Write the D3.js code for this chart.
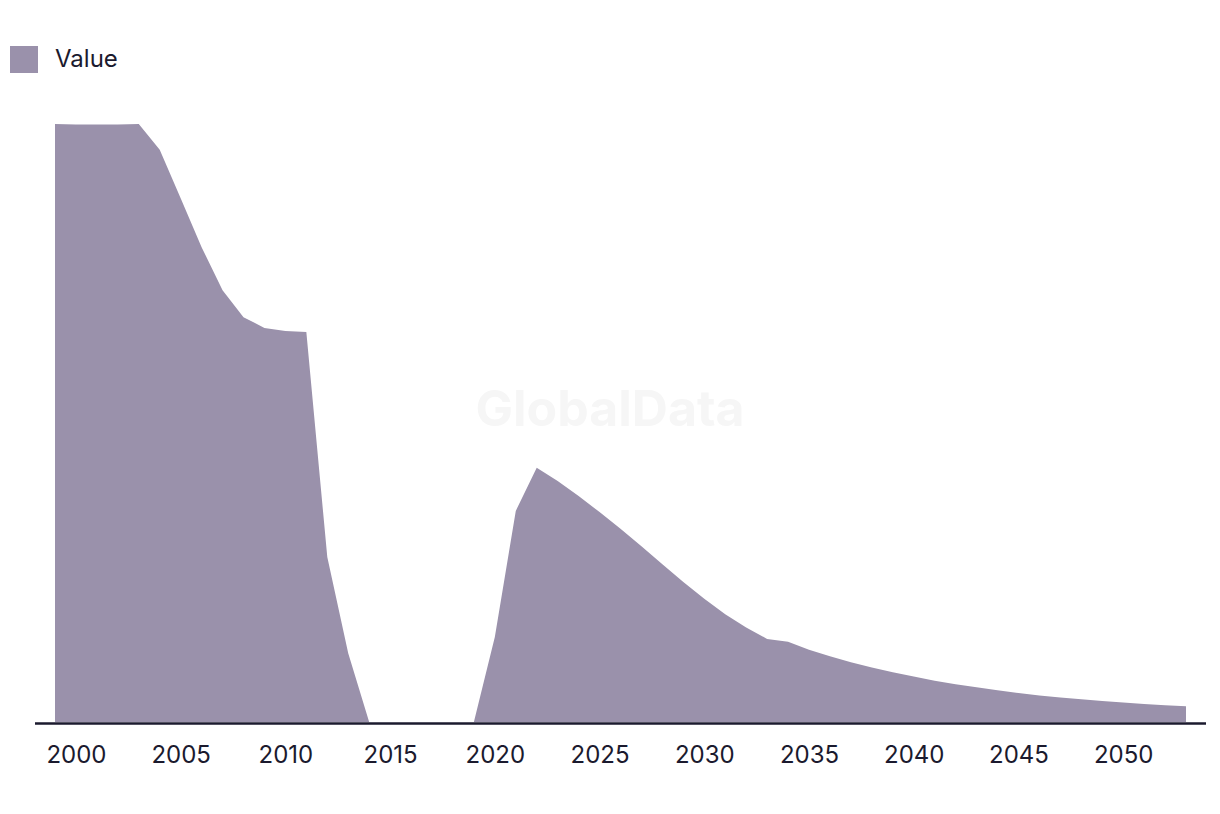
<!DOCTYPE html>
<html><head><meta charset="utf-8">
<script src="https://cdn.jsdelivr.net/npm/d3@7"></script>
<style>
html,body{margin:0;padding:0;background:#fff;}
svg{display:block;font-family:Inter,"Noto Sans",sans-serif;}
</style></head>
<body>
<svg id="chart" width="1220" height="814"></svg>
<script>
const years = d3.range(1999, 2054);
const values = [100, 99.9, 99.9, 99.9, 100, 95.7, 87.6, 79.4, 72.2, 67.7, 65.9, 65.4, 65.2, 27.6, 11.5,
  0, 0, 0, 0, 0, 0, 14.2, 35.3, 42.5, 40.3, 37.8, 35.1, 32.3, 29.4, 26.4, 23.4, 20.6, 18.0, 15.8, 13.9,
  13.4, 12.1, 11.0, 10.0, 9.1, 8.3, 7.6, 6.9, 6.3, 5.8, 5.3, 4.85, 4.45, 4.1, 3.8, 3.5, 3.25, 3.0, 2.8, 2.65];
const tickYears = [2000, 2005, 2010, 2015, 2020, 2025, 2030, 2035, 2040, 2045, 2050];
const seriesName = "Value";

const data = years.map((y, i) => ({year: y, value: values[i]}));
const svg = d3.select("#chart");
const color = "#9a91ab";
const ink = "#1b1a2e";

const x = d3.scaleLinear().domain([1999, 2053]).range([55, 1186]);
const y = d3.scaleLinear().domain([0, 100]).range([722, 124]);

// watermark
svg.append("text").attr("x", 610).attr("y", 426).attr("text-anchor", "middle")
  .attr("font-size", 50).attr("font-weight", 700).attr("fill", "#f6f6f6")
  .text("GlobalData");

// area
svg.append("path").datum(data)
  .attr("fill", color)
  .attr("d", d3.area().x(d => x(d.year)).y0(y(0)).y1(d => y(d.value)));

// axis
const axis = svg.append("g").attr("transform", `translate(0,${y(0)})`)
  .call(d3.axisBottom(x).tickValues(tickYears).tickFormat(d3.format("d")).tickSize(0).tickPadding(24));
axis.select(".domain").remove();
axis.selectAll("text").attr("font-size", 24).attr("fill", ink).attr("font-family", "Inter, sans-serif");
axis.append("line").attr("x1", x(1999) - 20).attr("x2", x(2053) + 20).attr("y1", 1.4).attr("y2", 1.4)
  .attr("stroke", ink).attr("stroke-width", 2.5);

// legend
const lg = svg.append("g");
lg.append("rect").attr("x", 10).attr("y", 46).attr("width", 28).attr("height", 27).attr("fill", color);
lg.append("text").attr("x", 55).attr("y", 67).attr("font-size", 24).attr("fill", ink).text(seriesName);
</script>
</body></html>
